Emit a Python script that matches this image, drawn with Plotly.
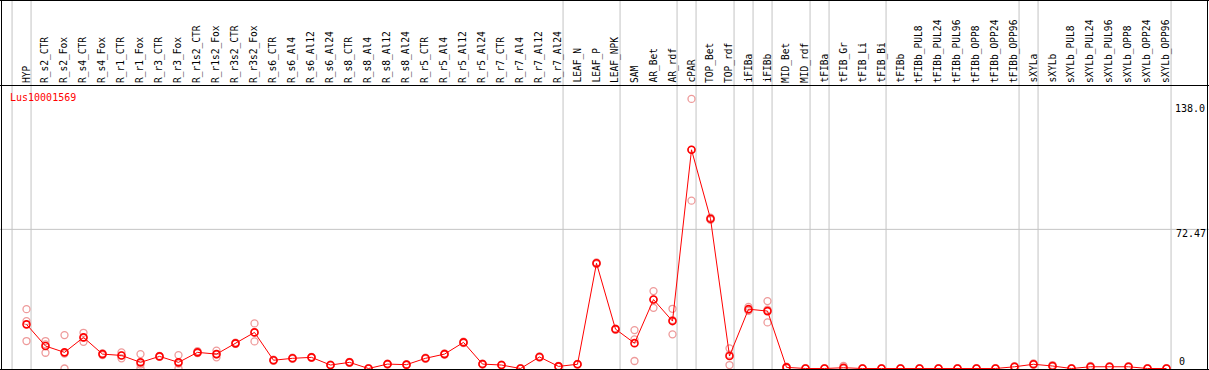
import plotly.graph_objects as go

W, H = 1209, 370

categories = [
    "HYP", "R_s2_CTR", "R_s2_Fox", "R_s4_CTR", "R_s4_Fox", "R_r1_CTR", "R_r1_Fox",
    "R_r3_CTR", "R_r3_Fox", "R_r1s2_CTR", "R_r1s2_Fox", "R_r3s2_CTR", "R_r3s2_Fox",
    "R_s6_CTR", "R_s6_Al4", "R_s6_Al12", "R_s6_Al24", "R_s8_CTR", "R_s8_Al4",
    "R_s8_Al12", "R_s8_Al24", "R_r5_CTR", "R_r5_Al4", "R_r5_Al12", "R_r5_Al24",
    "R_r7_CTR", "R_r7_Al4", "R_r7_Al12", "R_r7_Al24", "LEAF_N", "LEAF_P", "LEAF_NPK",
    "SAM", "AR_Bet", "AR_rdf", "cPAR", "TOP_Bet", "TOP_rdf", "iFIBa", "iFIBb",
    "MID_Bet", "MID_rdf", "tFIBa", "tFIB_Gr", "tFIB_Li", "tFIB_Bi", "tFIBb",
    "tFIBb_PUL8", "tFIBb_PUL24", "tFIBb_PUL96", "tFIBb_OPP8", "tFIBb_OPP24",
    "tFIBb_OPP96", "sXYLa", "sXYLb", "sXYLb_PUL8", "sXYLb_PUL24", "sXYLb_PUL96",
    "sXYLb_OPP8", "sXYLb_OPP24", "sXYLb_OPP96",
]

mean_values = [
    23.0, 11.7, 8.4, 16.2, 7.5, 6.8, 3.2, 6.3, 3.2, 8.4, 7.5, 13.1, 18.8,
    4.3, 5.3, 5.8, 1.8, 3.2, 0.0, 2.3, 2.0, 5.3, 7.5, 13.6, 2.3,
    1.8, 0.0, 6.0, 1.1, 2.2, 54.8, 20.5, 13.2, 35.9, 24.7, 113.9, 78.0,
    6.5, 30.9, 29.9, 0.6, 0.0, 0.0, 0.4, 0.0, 0.0, 0.0,
    0.0, 0.0, 0.0, 0.0, 0.0, 0.9, 2.2, 1.3, 0.0, 0.9, 0.9, 0.9, 0.0, 0.0,
]

rep_a = [
    30.9, 14.3, 17.4, 18.6, 7.8, 8.4, 7.5, 6.1, 7.0, 9.0, 9.3, 13.5, 23.5,
    4.6, 5.6, 6.0, 2.0, 3.5, 0.0, 2.5, 2.2, 5.6, 7.8, 14.0, 2.5,
    2.0, 0.0, 6.3, 1.3, 2.4, 55.2, 20.8, 20.0, 40.3, 31.1, 140.4, 78.6,
    10.5, 32.1, 35.1, 1.0, 0.0, 0.0, 1.3, 0.0, 0.0, 0.0,
    0.0, 0.0, 0.0, 0.0, 0.0, 1.2, 2.6, 1.8, 0.0, 1.4, 1.2, 1.2, 0.0, 0.0,
]
rep_b = [
    24.7, 8.2, 0.0, 13.9, 7.0, 5.3, 0.0, 6.5, 0.0, 8.0, 5.8, 12.8, 14.1,
    4.0, 5.0, 5.6, 1.6, 2.9, 0.0, 2.1, 1.8, 5.0, 7.2, 13.2, 2.1,
    1.6, 0.0, 5.7, 0.9, 2.0, 54.4, 20.2, 15.2, 31.6, 17.8, 87.4, 77.4,
    1.8, 30.0, 24.0, 0.4, 0.0, 0.0, 0.0, 0.0, 0.0, 0.0,
    0.0, 0.0, 0.0, 0.0, 0.0, 0.8, 2.0, 1.0, 0.0, 0.6, 0.8, 0.8, 0.0, 0.0,
]
rep_c = [
    14.3, 12.6, 7.8, 16.1, 7.7, 6.8, 2.1, 6.3, 2.6, 8.2, 7.4, 13.0, 18.8,
    4.3, 5.3, 5.8, 1.8, 3.2, 0.0, 2.3, 2.0, 5.3, 7.5, 13.6, 2.3,
    1.8, 0.0, 6.0, 1.1, 2.2, 54.8, 20.5, 3.9, 35.9, 25.2, 113.9, 78.0,
    7.2, 30.6, 30.6, 0.4, 0.0, 0.0, 0.0, 0.0, 0.0, 0.0,
    0.0, 0.0, 0.0, 0.0, 0.0, 0.7, 2.0, 1.1, 0.0, 0.7, 0.7, 0.7, 0.0, 0.0,
]

# group separators: drawn just after these category indices
separator_after = [-1, 0, 28, 31, 34, 35, 37, 38, 39, 41, 42, 45, 52, 53, 60]

gene_id = "Lus10001569"
y_tick_values = [0, 72.47, 138.0]
y_tick_labels = ["0", "72.47", "138.0"]

xs = list(range(len(categories)))

# axis scaling
PX_PER_CAT = 19.0
X_FIRST = 26.5
x0 = -X_FIRST / PX_PER_CAT
x1 = x0 + W / PX_PER_CAT
PX_PER_UNIT = 1.92
Y_ZERO_PX = 368.5
y0 = -(H - Y_ZERO_PX) / PX_PER_UNIT
y1 = y0 + H / PX_PER_UNIT

HEADER_PX = 85.5

fig = go.Figure()

rep_color = "#ee9a9a"
for reps in (rep_a, rep_b, rep_c):
    fig.add_trace(go.Scatter(
        x=xs, y=reps, mode="markers",
        marker=dict(symbol="circle-open", size=7, color=rep_color,
                    line=dict(width=1.3, color=rep_color)),
        hoverinfo="skip", showlegend=False, cliponaxis=False,
    ))

fig.add_trace(go.Scatter(
    x=xs, y=mean_values, mode="lines+markers",
    line=dict(color="#ff0000", width=1),
    marker=dict(symbol="circle-open", size=7, color="#ff0000",
                line=dict(width=1.6, color="#ff0000")),
    showlegend=False, cliponaxis=False,
))

shapes = []
grey = "#c4c4c4"
for s in separator_after:
    shapes.append(dict(type="line", xref="x", yref="paper",
                       x0=s + 0.24, x1=s + 0.24, y0=0, y1=1,
                       line=dict(color=grey, width=1), layer="below"))
# horizontal grid line at middle tick
shapes.append(dict(type="line", xref="paper", yref="y", x0=0, x1=1,
                   y0=y_tick_values[1], y1=y_tick_values[1],
                   line=dict(color=grey, width=1), layer="below"))
# black frame lines
def hline(py):
    return dict(type="line", xref="paper", yref="paper", x0=0, x1=1,
                y0=(H - py) / H, y1=(H - py) / H,
                line=dict(color="black", width=1), layer="above")
def vline(px):
    return dict(type="line", xref="paper", yref="paper", x0=px / W, x1=px / W,
                y0=0, y1=1, line=dict(color="black", width=1), layer="above")
shapes += [hline(0.5), hline(HEADER_PX), hline(369.5), vline(1.5), vline(1207.5)]

mono = "DejaVu Sans Mono"
annotations = []
for i, name in enumerate(categories):
    annotations.append(dict(
        x=i - 0.02, y=(H - 84) / H, xref="x", yref="paper", text=name,
        textangle=-90, xanchor="center", yanchor="bottom", showarrow=False,
        borderpad=0, font=dict(family=mono, size=9.6, color="black"),
    ))

annotations.append(dict(
    x=9 / W, y=(H - 97) / H, xref="paper", yref="paper", text=gene_id,
    xanchor="left", yanchor="middle", showarrow=False, borderpad=0,
    font=dict(family=mono, size=10, color="#ff0000"),
))

label_px = [1178, 1175, 1174]
for val, lab, lx in zip(y_tick_values, y_tick_labels, label_px):
    if val == 0:
        annotations.append(dict(x=lx / W, y=val, xref="paper", yref="y", text=lab,
                                xanchor="left", yanchor="bottom", yshift=1,
                                showarrow=False, borderpad=0,
                                font=dict(family=mono, size=10, color="black")))
    else:
        annotations.append(dict(x=lx / W, y=val, xref="paper", yref="y", text=lab,
                                xanchor="left", yanchor="top", yshift=2,
                                showarrow=False, borderpad=0,
                                font=dict(family=mono, size=10, color="black")))

fig.update_layout(
    width=W, height=H,
    margin=dict(l=0, r=0, t=0, b=0, pad=0),
    paper_bgcolor="white", plot_bgcolor="white",
    xaxis=dict(range=[x0, x1], visible=False, fixedrange=True),
    yaxis=dict(range=[y0, y1], visible=False, fixedrange=True),
    shapes=shapes, annotations=annotations,
    showlegend=False,
)

fig.write_html(
    "out.html",
    config={"displayModeBar": False},
    post_script="document.body.style.margin='0';document.body.style.overflow='hidden';",
)
